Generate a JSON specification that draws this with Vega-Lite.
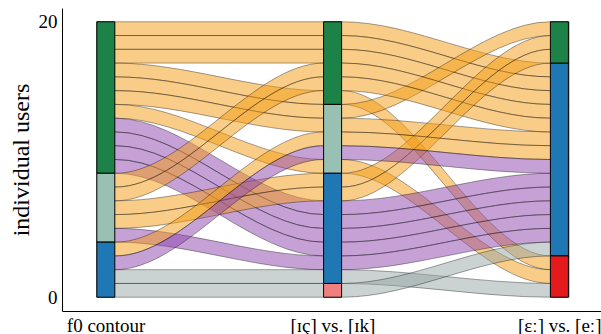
{
  "$schema": "https://vega.github.io/schema/vega-lite/v6.json",
  "width": 539,
  "height": 303,
  "autosize": {"type": "none"},
  "padding": {"left": 62, "top": 8, "right": 0, "bottom": 23},
  "config": {
    "view": {"stroke": null},
    "font": "Times New Roman, Liberation Serif, DejaVu Serif, serif"
  },
  "data": {
    "values": [
      {"user": "u01", "axis": "f0 contour", "stage": 1, "lo": 19, "hi": 20, "stratum": "A", "group": "g1", "side": ["in", "out"]},
      {"user": "u01", "axis": "[ɪç] vs. [ɪk]", "stage": 2, "lo": 19, "hi": 20, "stratum": "A", "group": "g1", "side": ["in", "out"]},
      {"user": "u01", "axis": "[ɛː] vs. [eː]", "stage": 3, "lo": 16, "hi": 17, "stratum": "C", "group": "g1", "side": ["in", "out"]},
      {"user": "u02", "axis": "f0 contour", "stage": 1, "lo": 18, "hi": 19, "stratum": "A", "group": "g1", "side": ["in", "out"]},
      {"user": "u02", "axis": "[ɪç] vs. [ɪk]", "stage": 2, "lo": 18, "hi": 19, "stratum": "A", "group": "g1", "side": ["in", "out"]},
      {"user": "u02", "axis": "[ɛː] vs. [eː]", "stage": 3, "lo": 15, "hi": 16, "stratum": "C", "group": "g1", "side": ["in", "out"]},
      {"user": "u03", "axis": "f0 contour", "stage": 1, "lo": 17, "hi": 18, "stratum": "A", "group": "g1", "side": ["in", "out"]},
      {"user": "u03", "axis": "[ɪç] vs. [ɪk]", "stage": 2, "lo": 17, "hi": 18, "stratum": "A", "group": "g1", "side": ["in", "out"]},
      {"user": "u03", "axis": "[ɛː] vs. [eː]", "stage": 3, "lo": 14, "hi": 15, "stratum": "C", "group": "g1", "side": ["in", "out"]},
      {"user": "u04", "axis": "f0 contour", "stage": 1, "lo": 16, "hi": 17, "stratum": "A", "group": "g1", "side": ["in", "out"]},
      {"user": "u04", "axis": "[ɪç] vs. [ɪk]", "stage": 2, "lo": 14, "hi": 15, "stratum": "A", "group": "g1", "side": ["in", "out"]},
      {"user": "u04", "axis": "[ɛː] vs. [eː]", "stage": 3, "lo": 2, "hi": 3, "stratum": "E", "group": "g1", "side": ["in", "out"]},
      {"user": "u05", "axis": "f0 contour", "stage": 1, "lo": 15, "hi": 16, "stratum": "A", "group": "g1", "side": ["in", "out"]},
      {"user": "u05", "axis": "[ɪç] vs. [ɪk]", "stage": 2, "lo": 13, "hi": 14, "stratum": "B", "group": "g1", "side": ["in", "out"]},
      {"user": "u05", "axis": "[ɛː] vs. [eː]", "stage": 3, "lo": 19, "hi": 20, "stratum": "A", "group": "g1", "side": ["in", "out"]},
      {"user": "u06", "axis": "f0 contour", "stage": 1, "lo": 14, "hi": 15, "stratum": "A", "group": "g1", "side": ["in", "out"]},
      {"user": "u06", "axis": "[ɪç] vs. [ɪk]", "stage": 2, "lo": 12, "hi": 13, "stratum": "B", "group": "g1", "side": ["in", "out"]},
      {"user": "u06", "axis": "[ɛː] vs. [eː]", "stage": 3, "lo": 11, "hi": 12, "stratum": "C", "group": "g1", "side": ["in", "out"]},
      {"user": "u07", "axis": "f0 contour", "stage": 1, "lo": 13, "hi": 14, "stratum": "A", "group": "g1", "side": ["in", "out"]},
      {"user": "u07", "axis": "[ɪç] vs. [ɪk]", "stage": 2, "lo": 9, "hi": 10, "stratum": "B", "group": "g1", "side": ["in", "out"]},
      {"user": "u07", "axis": "[ɛː] vs. [eː]", "stage": 3, "lo": 1, "hi": 2, "stratum": "E", "group": "g1", "side": ["in", "out"]},
      {"user": "u08", "axis": "f0 contour", "stage": 1, "lo": 12, "hi": 13, "stratum": "A", "group": "g2", "side": ["in", "out"]},
      {"user": "u08", "axis": "[ɪç] vs. [ɪk]", "stage": 2, "lo": 6, "hi": 7, "stratum": "C", "group": "g2", "side": ["in", "out"]},
      {"user": "u08", "axis": "[ɛː] vs. [eː]", "stage": 3, "lo": 8, "hi": 9, "stratum": "C", "group": "g2", "side": ["in", "out"]},
      {"user": "u09", "axis": "f0 contour", "stage": 1, "lo": 11, "hi": 12, "stratum": "A", "group": "g2", "side": ["in", "out"]},
      {"user": "u09", "axis": "[ɪç] vs. [ɪk]", "stage": 2, "lo": 5, "hi": 6, "stratum": "C", "group": "g2", "side": ["in", "out"]},
      {"user": "u09", "axis": "[ɛː] vs. [eː]", "stage": 3, "lo": 7, "hi": 8, "stratum": "C", "group": "g2", "side": ["in", "out"]},
      {"user": "u10", "axis": "f0 contour", "stage": 1, "lo": 10, "hi": 11, "stratum": "A", "group": "g2", "side": ["in", "out"]},
      {"user": "u10", "axis": "[ɪç] vs. [ɪk]", "stage": 2, "lo": 4, "hi": 5, "stratum": "C", "group": "g2", "side": ["in", "out"]},
      {"user": "u10", "axis": "[ɛː] vs. [eː]", "stage": 3, "lo": 6, "hi": 7, "stratum": "C", "group": "g2", "side": ["in", "out"]},
      {"user": "u11", "axis": "f0 contour", "stage": 1, "lo": 9, "hi": 10, "stratum": "A", "group": "g2", "side": ["in", "out"]},
      {"user": "u11", "axis": "[ɪç] vs. [ɪk]", "stage": 2, "lo": 3, "hi": 4, "stratum": "C", "group": "g2", "side": ["in", "out"]},
      {"user": "u11", "axis": "[ɛː] vs. [eː]", "stage": 3, "lo": 5, "hi": 6, "stratum": "C", "group": "g2", "side": ["in", "out"]},
      {"user": "u12", "axis": "f0 contour", "stage": 1, "lo": 8, "hi": 9, "stratum": "B", "group": "g1", "side": ["in", "out"]},
      {"user": "u12", "axis": "[ɪç] vs. [ɪk]", "stage": 2, "lo": 16, "hi": 17, "stratum": "A", "group": "g1", "side": ["in", "out"]},
      {"user": "u12", "axis": "[ɛː] vs. [eː]", "stage": 3, "lo": 13, "hi": 14, "stratum": "C", "group": "g1", "side": ["in", "out"]},
      {"user": "u13", "axis": "f0 contour", "stage": 1, "lo": 7, "hi": 8, "stratum": "B", "group": "g1", "side": ["in", "out"]},
      {"user": "u13", "axis": "[ɪç] vs. [ɪk]", "stage": 2, "lo": 15, "hi": 16, "stratum": "A", "group": "g1", "side": ["in", "out"]},
      {"user": "u13", "axis": "[ɛː] vs. [eː]", "stage": 3, "lo": 12, "hi": 13, "stratum": "C", "group": "g1", "side": ["in", "out"]},
      {"user": "u14", "axis": "f0 contour", "stage": 1, "lo": 6, "hi": 7, "stratum": "B", "group": "g1", "side": ["in", "out"]},
      {"user": "u14", "axis": "[ɪç] vs. [ɪk]", "stage": 2, "lo": 8, "hi": 9, "stratum": "C", "group": "g1", "side": ["in", "out"]},
      {"user": "u14", "axis": "[ɛː] vs. [eː]", "stage": 3, "lo": 18, "hi": 19, "stratum": "A", "group": "g1", "side": ["in", "out"]},
      {"user": "u15", "axis": "f0 contour", "stage": 1, "lo": 5, "hi": 6, "stratum": "B", "group": "g1", "side": ["in", "out"]},
      {"user": "u15", "axis": "[ɪç] vs. [ɪk]", "stage": 2, "lo": 7, "hi": 8, "stratum": "C", "group": "g1", "side": ["in", "out"]},
      {"user": "u15", "axis": "[ɛː] vs. [eː]", "stage": 3, "lo": 17, "hi": 18, "stratum": "A", "group": "g1", "side": ["in", "out"]},
      {"user": "u16", "axis": "f0 contour", "stage": 1, "lo": 4, "hi": 5, "stratum": "B", "group": "g2", "side": ["in", "out"]},
      {"user": "u16", "axis": "[ɪç] vs. [ɪk]", "stage": 2, "lo": 2, "hi": 3, "stratum": "C", "group": "g2", "side": ["in", "out"]},
      {"user": "u16", "axis": "[ɛː] vs. [eː]", "stage": 3, "lo": 4, "hi": 5, "stratum": "C", "group": "g2", "side": ["in", "out"]},
      {"user": "u17", "axis": "f0 contour", "stage": 1, "lo": 3, "hi": 4, "stratum": "C", "group": "g1", "side": ["in", "out"]},
      {"user": "u17", "axis": "[ɪç] vs. [ɪk]", "stage": 2, "lo": 11, "hi": 12, "stratum": "B", "group": "g1", "side": ["in", "out"]},
      {"user": "u17", "axis": "[ɛː] vs. [eː]", "stage": 3, "lo": 10, "hi": 11, "stratum": "C", "group": "g1", "side": ["in", "out"]},
      {"user": "u18", "axis": "f0 contour", "stage": 1, "lo": 2, "hi": 3, "stratum": "C", "group": "g2", "side": ["in", "out"]},
      {"user": "u18", "axis": "[ɪç] vs. [ɪk]", "stage": 2, "lo": 10, "hi": 11, "stratum": "B", "group": "g2", "side": ["in", "out"]},
      {"user": "u18", "axis": "[ɛː] vs. [eː]", "stage": 3, "lo": 9, "hi": 10, "stratum": "C", "group": "g2", "side": ["in", "out"]},
      {"user": "u19", "axis": "f0 contour", "stage": 1, "lo": 1, "hi": 2, "stratum": "C", "group": "g3", "side": ["in", "out"]},
      {"user": "u19", "axis": "[ɪç] vs. [ɪk]", "stage": 2, "lo": 1, "hi": 2, "stratum": "C", "group": "g3", "side": ["in", "out"]},
      {"user": "u19", "axis": "[ɛː] vs. [eː]", "stage": 3, "lo": 0, "hi": 1, "stratum": "E", "group": "g3", "side": ["in", "out"]},
      {"user": "u20", "axis": "f0 contour", "stage": 1, "lo": 0, "hi": 1, "stratum": "C", "group": "g3", "side": ["in", "out"]},
      {"user": "u20", "axis": "[ɪç] vs. [ɪk]", "stage": 2, "lo": 0, "hi": 1, "stratum": "D", "group": "g3", "side": ["in", "out"]},
      {"user": "u20", "axis": "[ɛː] vs. [eː]", "stage": 3, "lo": 3, "hi": 4, "stratum": "C", "group": "g3", "side": ["in", "out"]}
    ]
  },
  "layer": [
    {
      "transform": [{"flatten": ["side"]}],
      "mark": {"type": "area", "interpolate": "monotone", "fillOpacity": 0.5, "stroke": "#000", "strokeWidth": 0.8, "strokeOpacity": 0.45},
      "encoding": {
        "x": {"field": "axis", "type": "nominal", "sort": ["f0 contour", "[ɪç] vs. [ɪk]", "[ɛː] vs. [eː]"],
              "scale": {"type": "band", "paddingInner": 0.91755, "paddingOuter": 0.14705, "align": 0.5217},
              "axis": {"title": null, "labelAngle": 0, "labelFont": "Times New Roman, Liberation Serif, DejaVu Serif, serif", "labelFontSize": 19, "labelColor": "#000", "labelPadding": 5, "ticks": false, "tickSize": 0, "domainColor": "#000", "domainWidth": 1, "grid": false}},
        "xOffset": {"field": "side", "type": "nominal", "scale": {"type": "point", "padding": 0, "domain": ["in", "out"]}},
        "y": {"field": "lo", "type": "quantitative", "scale": {"domain": [-1, 21], "nice": false, "zero": false},
              "axis": {"title": "individual users", "values": [0, 20], "titleFont": "Times New Roman, Liberation Serif, DejaVu Serif, serif", "titleFontSize": 24, "titleFontWeight": "normal", "titleColor": "#000", "titlePadding": 5, "labelFont": "Times New Roman, Liberation Serif, DejaVu Serif, serif", "labelFontSize": 19, "labelColor": "#000", "labelPadding": 5, "ticks": false, "tickSize": 0, "domainColor": "#000", "domainWidth": 1, "grid": false}},
        "y2": {"field": "hi"},
        "fill": {"field": "group", "type": "nominal", "legend": null,
                 "scale": {"domain": ["g1", "g2", "g3", "A", "B", "C", "D", "E"], "range": ["#F39C12", "#8E44AD", "#95A5A6", "#1C8248", "#98C1B4", "#1F77B4", "#F08080", "#E41A1C"]}},
        "detail": {"field": "user", "type": "nominal"},
        "order": [{"field": "stage", "type": "quantitative"}, {"field": "side", "type": "nominal"}]
      }
    },
    {
      "transform": [{"aggregate": [{"op": "min", "field": "lo", "as": "lo"}, {"op": "max", "field": "hi", "as": "hi"}], "groupby": ["axis", "stratum"]}],
      "mark": {"type": "rect", "stroke": "#000", "strokeWidth": 1},
      "encoding": {
        "x": {"field": "axis", "type": "nominal", "sort": ["f0 contour", "[ɪç] vs. [ɪk]", "[ɛː] vs. [eː]"],
              "axis": {"title": null, "labelAngle": 0, "labelFont": "Times New Roman, Liberation Serif, DejaVu Serif, serif", "labelFontSize": 19, "labelColor": "#000", "labelPadding": 5, "ticks": false, "tickSize": 0, "domainColor": "#000", "domainWidth": 1, "grid": false}},
        "y": {"field": "lo", "type": "quantitative",
              "axis": {"title": "individual users", "values": [0, 20], "titleFont": "Times New Roman, Liberation Serif, DejaVu Serif, serif", "titleFontSize": 24, "titleFontWeight": "normal", "titleColor": "#000", "titlePadding": 5, "labelFont": "Times New Roman, Liberation Serif, DejaVu Serif, serif", "labelFontSize": 19, "labelColor": "#000", "labelPadding": 5, "ticks": false, "tickSize": 0, "domainColor": "#000", "domainWidth": 1, "grid": false}},
        "y2": {"field": "hi"},
        "fill": {"field": "stratum", "type": "nominal", "legend": null,
                 "scale": {"domain": ["g1", "g2", "g3", "A", "B", "C", "D", "E"], "range": ["#F39C12", "#8E44AD", "#95A5A6", "#1C8248", "#98C1B4", "#1F77B4", "#F08080", "#E41A1C"]}}
      }
    }
  ]
}
